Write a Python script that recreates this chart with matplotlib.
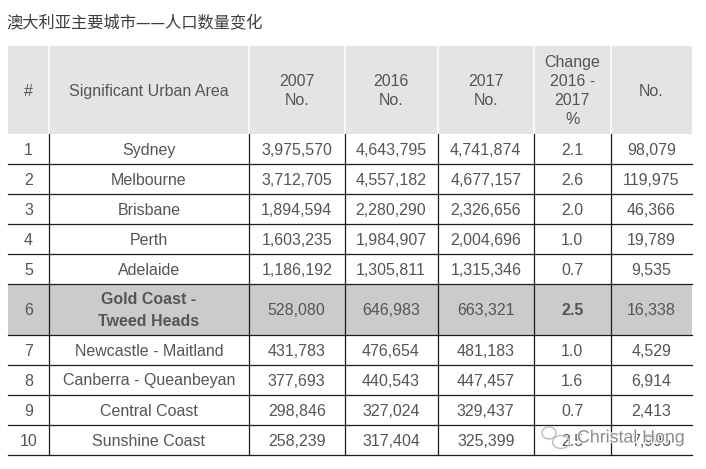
import matplotlib
matplotlib.use("Agg")
import matplotlib.pyplot as plt
import matplotlib.patheffects as pe
from matplotlib.patches import Rectangle, Ellipse

title = "澳大利亚主要城市——人口数量变化"
headers = ["#", "Significant Urban Area", "2007\nNo.", "2016\nNo.", "2017\nNo.",
           "Change\n2016 -\n2017\n%", "No."]
ranks = ["1", "2", "3", "4", "5", "6", "7", "8", "9", "10"]
areas = ["Sydney", "Melbourne", "Brisbane", "Perth", "Adelaide", "Gold Coast -\nTweed Heads",
         "Newcastle - Maitland", "Canberra - Queanbeyan", "Central Coast", "Sunshine Coast"]
pop_2007 = ["3,975,570", "3,712,705", "1,894,594", "1,603,235", "1,186,192",
            "528,080", "431,783", "377,693", "298,846", "258,239"]
pop_2016 = ["4,643,795", "4,557,182", "2,280,290", "1,984,907", "1,305,811",
            "646,983", "476,654", "440,543", "327,024", "317,404"]
pop_2017 = ["4,741,874", "4,677,157", "2,326,656", "2,004,696", "1,315,346",
            "663,321", "481,183", "447,457", "329,437", "325,399"]
change_pct = ["2.1", "2.6", "2.0", "1.0", "0.7", "2.5", "1.0", "1.6", "0.7", "2.5"]
change_no = ["98,079", "119,975", "46,366", "19,789", "9,535",
             "16,338", "4,529", "6,914", "2,413", "7,995"]

# table geometry in image pixels
col_edges = [8, 49, 249, 344.5, 437.5, 534, 610.5, 692]
row_edges = [46, 134.5, 164.5, 194.5, 224.5, 254.5, 284.5, 335, 365, 395, 425, 455.5]
highlight = 5

W, H = 706, 469
TEXT = "#555557"
fig = plt.figure(figsize=(W / 100, H / 100), dpi=100)
ax = fig.add_axes([0, 0, 1, 1])
ax.set_xlim(0, W)
ax.set_ylim(H, 0)
ax.axis("off")

plt.rcParams["font.family"] = ["Liberation Sans", "DejaVu Sans"]

ax.text(6.5, 24, title, family="Noto Sans CJK SC", fontsize=11.7, color="#3c3c3c",
        ha="left", va="center")

# header cells, white gaps between them
for j, head in enumerate(headers):
    x0, x1 = col_edges[j], col_edges[j + 1]
    ax.add_patch(Rectangle((x0, row_edges[0]), x1 - x0, row_edges[1] - row_edges[0],
                           fc="#e4e4e6", ec="none", zorder=1))
    ax.text((x0 + x1) / 2, (row_edges[0] + row_edges[1]) / 2 + 1, head, fontsize=11.5,
            color=TEXT, ha="center", va="center", linespacing=1.33, zorder=3)
for x in col_edges[1:-1]:
    ax.plot([x, x], [row_edges[0], row_edges[1]], color="white", lw=1.1, zorder=2)

# highlighted row
ax.add_patch(Rectangle((col_edges[0], row_edges[highlight + 1]), col_edges[-1] - col_edges[0],
                       row_edges[highlight + 2] - row_edges[highlight + 1],
                       fc="#cbcbcd", ec="none", zorder=1))

# grid
for y in row_edges[2:]:
    ax.plot([col_edges[0], col_edges[-1]], [y, y], color="#1c1c1c", lw=0.9, zorder=2)
for x in col_edges[1:-1]:
    ax.plot([x, x], [row_edges[1], row_edges[-1]], color="#1c1c1c", lw=0.9, zorder=2)

columns = [ranks, areas, pop_2007, pop_2016, pop_2017, change_pct, change_no]
for j, col in enumerate(columns):
    xc = (col_edges[j] + col_edges[j + 1]) / 2
    for i, val in enumerate(col):
        yc = (row_edges[i + 1] + row_edges[i + 2]) / 2 + 1
        bold = i == highlight and j in (1, 5)
        ax.text(xc, yc, val, fontsize=11.5, color=TEXT, ha="center", va="center",
                fontweight="bold" if bold else "normal", linespacing=1.6, zorder=3)

# watermark over the last row
for cx, cy, w, h in [(549, 433, 14, 12), (561, 442, 17, 13)]:
    ax.add_patch(Ellipse((cx, cy), w, h, fc="none", ec="#bdbdbd", lw=1.0, zorder=4))
ax.text(577, 438, "Christal Hong", fontsize=12.8, color="#8c8c8c", ha="left", va="center",
        zorder=4, path_effects=[pe.withStroke(linewidth=1.5, foreground="white")])

fig.savefig("out.png", dpi=100)
